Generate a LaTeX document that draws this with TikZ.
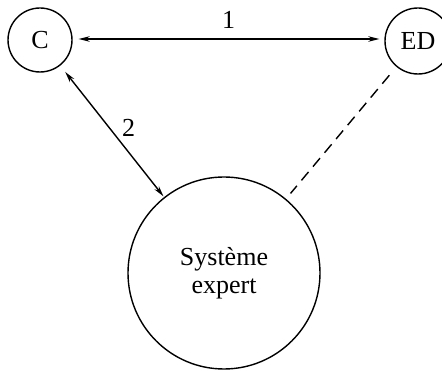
\documentclass[tikz,border=0pt]{standalone}
\usepackage{fontspec}
\setmainfont{Liberation Serif}
\usetikzlibrary{arrows.meta}

\begin{document}
\begin{tikzpicture}[x=1pt,y=-1pt, line width=1.4pt,
  every node/.style={font=\fontsize{26}{28}\selectfont},
  actor/.style={circle, draw, inner sep=0pt, minimum size=64pt},
  link/.style={{Stealth[length=11pt,width=5.5pt]}-{Stealth[length=11pt,width=5.5pt]}}]
 \useasboundingbox (0,0) rectangle (442,371);
 % les trois acteurs
 \node (C) [actor] at (40,40) {C};
 \node (ED) [actor, minimum size=66pt] at (418,41) {ED};
 \node (SE) [actor, minimum size=192pt, align=center] at (224,273) {Système\\expert};
 % liaisons
 \draw [link, shorten <=6pt, shorten >=5pt] ([yshift=1pt]C.east) -- ([yshift=1pt]C.east -| ED.west) node [midway, above=6pt] (l1) {1};
 \draw [link, shorten <=8pt, shorten >=1pt] (C) -- (SE) node [pos=.47, right=9pt] (l2) {2};
 \draw [dash pattern=on 11pt off 7pt, shorten <=11pt, shorten >=7pt] (ED) -- (SE);
\end{tikzpicture}
\end{document}
